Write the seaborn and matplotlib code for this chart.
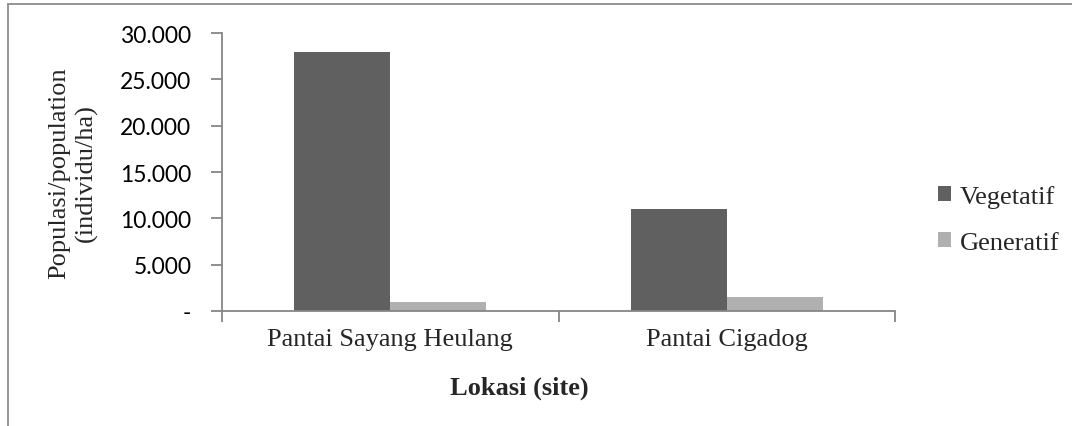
import matplotlib
matplotlib.use("Agg")
import matplotlib.pyplot as plt
from matplotlib.lines import Line2D
from matplotlib.ticker import FuncFormatter, FixedLocator
import pandas as pd
import seaborn as sns

# data
sites = ["Pantai Sayang Heulang", "Pantai Cigadog"]
vegetatif = [28000, 11000]
generatif = [1000, 1500]
series_names = ["Vegetatif", "Generatif"]
bar_colors = ["#606060", "#b0b0b0"]

df = pd.DataFrame({
    "site": sites * 2,
    "stage": [series_names[0]] * len(sites) + [series_names[1]] * len(sites),
    "value": vegetatif + generatif,
})

sns.set_style("white")
W, H = 1072, 427
fig = plt.figure(figsize=(W / 100, H / 100), dpi=100)
ax = fig.add_axes([222 / W, 1 - 312 / H, 673 / W, 278 / H])

sns.barplot(data=df, x="site", y="value", hue="stage", order=sites,
            hue_order=series_names, palette=bar_colors, width=0.571,
            saturation=1, edgecolor="none", linewidth=0, ax=ax, legend=True)

axis_col = "#868686"
serif = "Liberation Serif"
sns.despine(ax=ax)
for s in ["left", "bottom"]:
    ax.spines[s].set_color(axis_col)
    ax.spines[s].set_linewidth(1.3)

ax.set_xlim(-0.5, 1.5)
ax.set_ylim(0, 30000)
ax.set_yticks(range(0, 30001, 5000))
ax.yaxis.set_major_formatter(FuncFormatter(
    lambda v, p: "-" if v == 0 else f"{v:,.0f}".replace(",", ".")))
ax.tick_params(axis="y", which="major", length=8, width=1.3, color=axis_col,
               direction="out", left=True, pad=14, labelsize=16.5,
               labelcolor="black")
for lab in ax.get_yticklabels():
    lab.set_family(["Lato", "DejaVu Sans"])

ax.xaxis.set_minor_locator(FixedLocator([-0.5, 0.5, 1.5]))
ax.tick_params(axis="x", which="minor", length=8, width=1.3, color=axis_col,
               direction="out", bottom=True)
ax.tick_params(axis="x", which="major", length=0, pad=12)
ax.set_xticks(range(len(sites)))
ax.set_xticklabels(sites, family=serif, fontsize=19)
ax.set_xlabel("")
ax.set_ylabel("")

fig.text(73 / W, 1 - 173 / H, "Populasi/population\n(individu/ha)",
         rotation=90, ha="center", va="center", family=serif,
         fontsize=19, linespacing=1.3)
fig.text(519 / W, 1 - 388 / H, "Lokasi (site)", ha="center", va="center",
         family=serif, fontsize=19, fontweight="bold")

handles, labels = ax.get_legend_handles_labels()
ax.get_legend().remove()
fig.legend(handles, labels, loc="upper left",
           bbox_to_anchor=(925 / W, 1 - 173 / H), frameon=False,
           prop={"family": serif, "size": 19},
           handlelength=0.48, handleheight=0.48, handletextpad=0.35,
           labelspacing=0.9, borderpad=0)

# chart-area border (top and left edges only are visible)
fig.add_artist(Line2D([8 / W, 1], [1 - 5 / H, 1 - 5 / H], color="#8c8c8c",
                      linewidth=1.3, transform=fig.transFigure))
fig.add_artist(Line2D([8 / W, 8 / W], [0, 1 - 5 / H], color="#8c8c8c",
                      linewidth=1.3, transform=fig.transFigure))

fig.savefig("out.png", dpi=100)
plt.close(fig)
